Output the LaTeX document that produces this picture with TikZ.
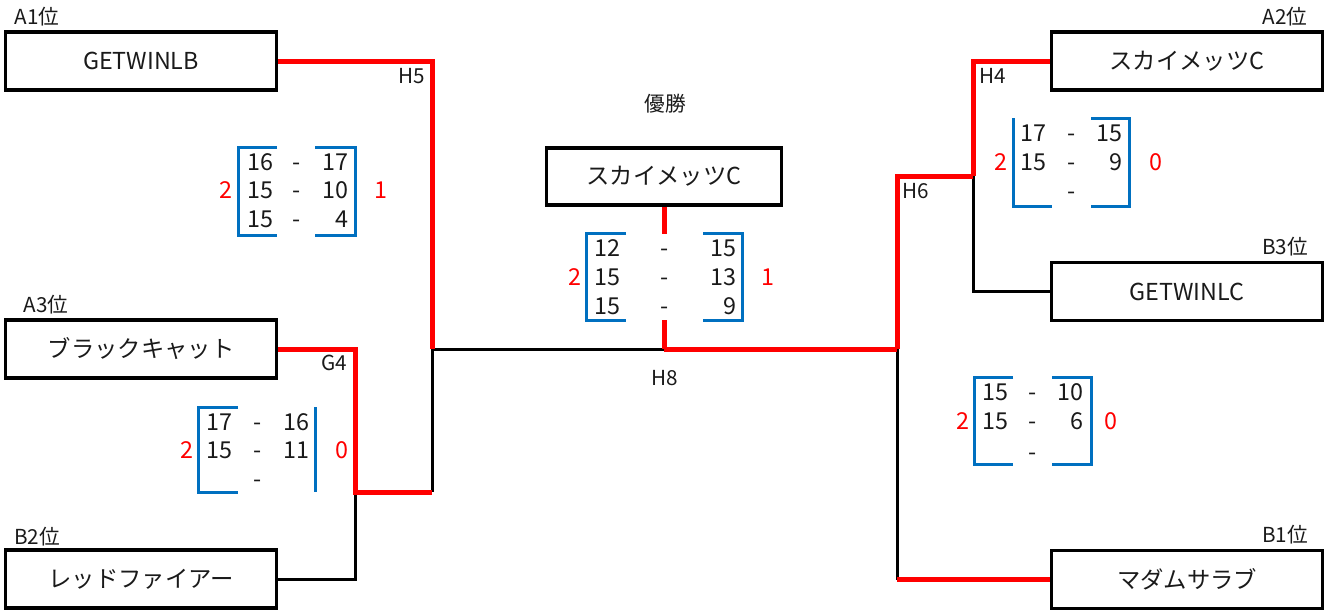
\documentclass[tikz,border=0pt]{standalone}
\usepackage{fontspec}
\setmainfont{Noto Sans CJK JP}
\definecolor{bblue}{HTML}{0070C0}
\definecolor{txt}{HTML}{1A1A1A}
\begin{document}
\begin{tikzpicture}[x=0.75pt,y=-0.75pt,
  every node/.style={text=txt},
  team/.style={draw=black, line width=2.5pt, minimum width=203.25pt, minimum height=43.5pt, inner sep=0pt, font=\fontsize{17.5}{20}\selectfont},
  champ/.style={team, minimum width=176.25pt, minimum height=42.75pt},
  poslab/.style={inner sep=0pt, font=\fontsize{15.5}{18}\selectfont},
  mlab/.style={inner sep=0pt, font=\fontsize{15.5}{18}\selectfont},
  sc/.style={inner sep=0pt, font=\fontsize{17.5}{20}\selectfont, anchor=base, yshift=-6.4pt},
  scr/.style={sc, anchor=base east},
  wins/.style={sc, text=red},
  link/.style={line width=2.25pt, black},
  win/.style={line width=3.75pt, red},
  brk/.style={line width=2.25pt, bblue}]
\useasboundingbox (0,0) rectangle (1325,612);

% team boxes
\node[team] (a1) at (141,61) {GETWINLB};
\node[team] (a3) at (141,349) {ブラックキャット};
\node[team] (b2) at (141,579) {レッドファイアー};
\node[team] (a2) at (1187,61) {スカイメッツC};
\node[team] (b3) at (1187,291.5) {GETWINLC};
\node[team] (b1) at (1187,579.5) {マダムサラブ};
\node[champ] (ch) at (664,176.5) {スカイメッツC};

% position labels
\node[poslab] (la1) at (37,17) {A1位};
\node[poslab] (la3) at (46,305) {A3位};
\node[poslab] (lb2) at (37,537) {B2位};
\node[poslab] (la2) at (1285,17) {A2位};
\node[poslab] (lb3) at (1285,247) {B3位};
\node[poslab] (lb1) at (1285,535) {B1位};
\node[poslab] (lwin) at (665,104) {優勝};

% junctions
\coordinate (g4j) at (355,492);
\coordinate (h5low) at (432,492);
\coordinate (h5j) at (432,349);
\coordinate (h8j) at (664,349);
\coordinate (h8top) at (664,320);
\coordinate (h8ch) at (664,234);
\coordinate (h6j) at (897,349);
\coordinate (h6top) at (897,176);
\coordinate (h4j) at (973,176);
\coordinate (h6bot) at (897,579.5);

% losing links
\draw[link] (b2.east) -| (g4j);
\draw[link] (h5low) -- (h5j);
\draw[link] (h5j) -- (h8j);
\draw[link] (h4j) |- (b3.west);
\draw[link] (h6j) -- (h6bot);

% winning links
\draw[win] (a1.east) -| (h5j);
\draw[win] (a3.east) -| (g4j) -- (h5low);
\draw[win] (h8j) -- (h6j);
\draw[win] (h8j) -- (h8top);
\draw[win] (ch.south) -- (h8ch);
\draw[win] (h6j) -- (h6top) -- (h4j);
\draw[win] (a2.west) -| (h4j);
\draw[win] (h6bot) -- (b1.west);

% match labels
\node[mlab] (mh5) at (412,76) {H5};
\node[mlab] (mg4) at (334,363) {G4};
\node[mlab] (mh8) at (665,378) {H8};
\node[mlab] (mh4) at (993,76) {H4};
\node[mlab] (mh6) at (916,191) {H6};

% score 1
\draw[brk] (277,147) -- (238,147) -- (238,235) -- (277,235);
\draw[brk] (315,147) -- (355,147) -- (355,235) -- (315,235);
\node[sc] (s1a) at (260,162) {16};
\node[sc] (s1b) at (260,190) {15};
\node[sc] (s1c) at (260,219) {15};
\node[sc] (s1d) at (297,162) {-};
\node[sc] (s1e) at (297,190) {-};
\node[sc] (s1f) at (297,219) {-};
\node[scr] (s1g) at (349,162) {17};
\node[scr] (s1h) at (349,190) {10};
\node[scr] (s1i) at (349,219) {4};
\node[wins] (s1w) at (226,190) {2};
\node[wins] (s1l) at (381,190) {1};

% score 2
\draw[brk] (238,407) -- (198,407) -- (198,492) -- (238,492);
\draw[brk] (315,407) -- (315,492);
\node[sc] (s2a) at (219,422) {17};
\node[sc] (s2b) at (219,450) {15};
\node[sc] (s2d) at (258,422) {-};
\node[sc] (s2e) at (258,450) {-};
\node[sc] (s2f) at (258,479) {-};
\node[scr] (s2g) at (310,422) {16};
\node[scr] (s2h) at (310,450) {11};
\node[wins] (s2w) at (187,450) {2};
\node[wins] (s2l) at (342,450) {0};

% score 3
\draw[brk] (626,233) -- (586,233) -- (586,320) -- (626,320);
\draw[brk] (703,233) -- (742,233) -- (742,320) -- (703,320);
\node[sc] (s3a) at (607,248) {12};
\node[sc] (s3b) at (607,277) {15};
\node[sc] (s3c) at (607,306) {15};
\node[sc] (s3d) at (665,248) {-};
\node[sc] (s3e) at (665,277) {-};
\node[sc] (s3f) at (665,306) {-};
\node[scr] (s3g) at (737,248) {15};
\node[scr] (s3h) at (737,277) {13};
\node[scr] (s3i) at (737,306) {9};
\node[wins] (s3w) at (575,277) {2};
\node[wins] (s3l) at (768,277) {1};

% score 4
\draw[brk] (1013,118) -- (1013,206) -- (1052,206);
\draw[brk] (1091,118) -- (1129,118) -- (1129,206) -- (1091,206);
\node[sc] (s4a) at (1033,133) {17};
\node[sc] (s4b) at (1033,162) {15};
\node[sc] (s4d) at (1072,133) {-};
\node[sc] (s4e) at (1072,162) {-};
\node[sc] (s4f) at (1072,191) {-};
\node[scr] (s4g) at (1123,133) {15};
\node[scr] (s4h) at (1123,162) {9};
\node[wins] (s4w) at (1001,162) {2};
\node[wins] (s4l) at (1156,162) {0};

% score 5
\draw[brk] (1013,377) -- (974,377) -- (974,464) -- (1013,464);
\draw[brk] (1052,377) -- (1091,377) -- (1091,464) -- (1052,464);
\node[sc] (s5a) at (995,392) {15};
\node[sc] (s5b) at (995,421) {15};
\node[sc] (s5d) at (1033,392) {-};
\node[sc] (s5e) at (1033,421) {-};
\node[sc] (s5f) at (1033,452) {-};
\node[scr] (s5g) at (1084,392) {10};
\node[scr] (s5h) at (1084,421) {6};
\node[wins] (s5w) at (963,421) {2};
\node[wins] (s5l) at (1111,421) {0};
\end{tikzpicture}
\end{document}
